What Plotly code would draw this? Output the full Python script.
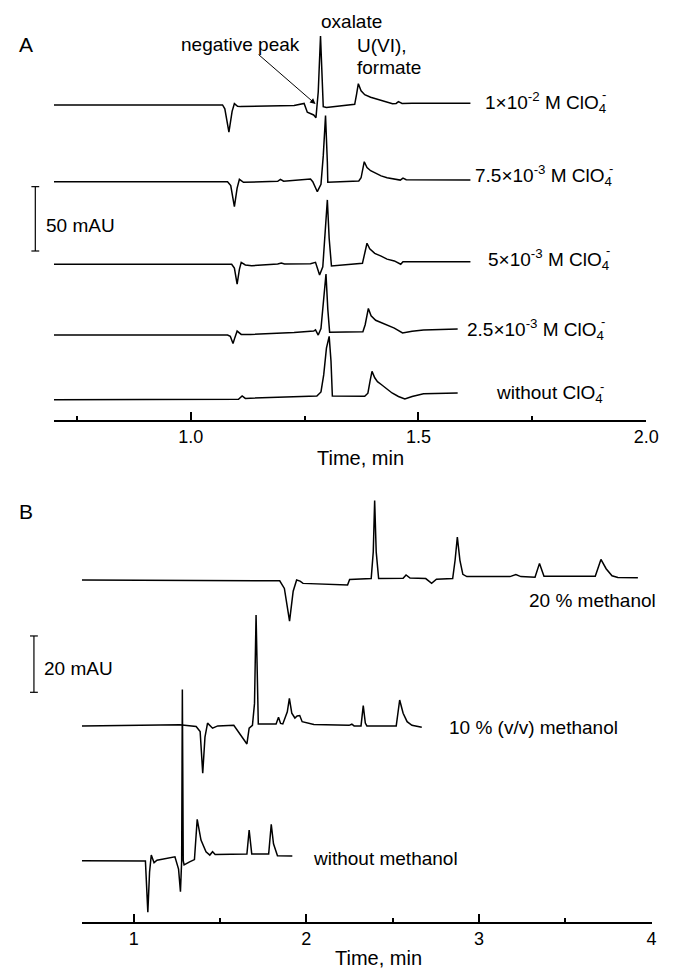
import plotly.graph_objects as go

# ---------------- Panel A: perchlorate in the background electrolyte ----------------
A_LABELS = ["1×10<sup>-2</sup> M ClO<sub>4</sub>", "7.5×10<sup>-3</sup> M ClO<sub>4</sub>",
            "5×10<sup>-3</sup> M ClO<sub>4</sub>", "2.5×10<sup>-3</sup> M ClO<sub>4</sub>",
            "without ClO<sub>4</sub>"]

A_T_1 = [0.700, 1.070, 1.075, 1.084, 1.091, 1.096, 1.103, 1.109, 1.227, 1.245, 1.249, 1.256,
         1.270, 1.275, 1.280, 1.285, 1.289, 1.291, 1.298, 1.357, 1.360, 1.364, 1.368, 1.374,
         1.382, 1.395, 1.410, 1.425, 1.443, 1.451, 1.456, 1.464, 1.486, 1.614]
A_V_1 = [0, 0, -3, -21.2, -5, 1.0, -1.0, -1.3, -0.5, 0.5, 1.2, -5.7,
         -7.8, -9.9, 10, 53.5, 10, -1.3, -2, 0, 0.5, 8, 16.5, 11,
         8, 6, 4.5, 3, 1, 1.2, 2.6, 1.2, 1.3, 1.3]

A_T_2 = [0.700, 1.081, 1.088, 1.096, 1.102, 1.107, 1.116, 1.163, 1.191, 1.197, 1.204, 1.263,
         1.268, 1.278, 1.286, 1.291, 1.296, 1.300, 1.301, 1.369, 1.374, 1.381, 1.387, 1.395,
         1.408, 1.418, 1.431, 1.447, 1.460, 1.466, 1.473, 1.614]
A_V_2 = [0, 0, -3, -19.4, -5, 1.8, -0.5, 0, 0.3, 1.8, 0.3, 2,
         0, -7.8, -2, 20, 51.3, 15, -0.5, 0.5, 3, 15.5, 11, 8.5,
         6, 4.5, 3, 2, 1.2, 2.8, 1.5, 1.3]

A_T_3 = [0.700, 1.090, 1.096, 1.102, 1.107, 1.111, 1.120, 1.134, 1.191, 1.199, 1.206, 1.263,
         1.274, 1.283, 1.290, 1.295, 1.300, 1.304, 1.309, 1.377, 1.380, 1.387, 1.393, 1.404,
         1.418, 1.431, 1.447, 1.461, 1.466, 1.614]
A_V_3 = [0, 0, -3, -15.5, -4, 1.5, -0.5, -1.1, 0.3, 1, 0.3, 0.5,
         1.5, -8.3, -2, 25, 50, 20, -1.3, 0.7, 5, 16.3, 12, 8.5,
         6.3, 4, 2.6, 0, 2, 2]

A_T_4 = [0.700, 1.081, 1.087, 1.093, 1.097, 1.102, 1.111, 1.131, 1.227, 1.270, 1.274, 1.280,
         1.286, 1.292, 1.297, 1.301, 1.305, 1.378, 1.383, 1.390, 1.396, 1.406, 1.418, 1.431,
         1.447, 1.465, 1.486, 1.511, 1.586]
A_V_4 = [0, 0, -1, -6.5, -2, 3.1, 0.5, 0.5, 2, 3.1, 4, 0,
         5, 30, 47.4, 20, 2.1, 2.6, 8, 20.7, 15, 11.5, 9.8, 7.5,
         5.4, 1.6, 3, 4, 4.7]

A_T_5 = [0.700, 1.098, 1.105, 1.113, 1.120, 1.131, 1.227, 1.277, 1.286, 1.292, 1.298, 1.304,
         1.308, 1.311, 1.382, 1.389, 1.394, 1.398, 1.404, 1.410, 1.419, 1.431, 1.442, 1.456,
         1.470, 1.486, 1.511, 1.586]
A_V_5 = [0, 0, 0.3, 2.9, 1.0, 1.1, 2, 2.9, 6, 19.2, 40, 49.2,
         30, 2.9, 2.6, 5, 15, 22, 17, 14, 11.6, 8, 5.2, 2.5,
         0.5, 2.5, 4.5, 5.2]

A_TICKS = [1.0, 1.5, 2.0]
A_TICK_TEXT = ["1.0", "1.5", "2.0"]
A_MINOR = [0.75, 1.25, 1.75]
A_SCALE_MAU = 50

# ---------------- Panel B: methanol in the background electrolyte ----------------
B_LABELS = ["20 % methanol", "10 % (v/v) methanol", "without methanol"]

B_T_1 = [0.700, 1.846, 1.873, 1.903, 1.924, 1.944, 1.964, 1.981, 2.239, 2.251,
         2.376, 2.388, 2.396, 2.405, 2.419, 2.561, 2.578, 2.601, 2.692, 2.726,
         2.754, 2.848, 2.862, 2.875, 2.890, 2.907, 2.930, 3.180, 3.214, 3.243,
         3.325, 3.351, 3.377, 3.674, 3.707, 3.737, 3.771, 3.805, 3.921]
B_V_1 = [0, -0.3, -3, -14.6, -4, 0, -0.4, -1.2, -1.8, 0.2,
         0.5, 10, 28.2, 10, 0.5, 0.6, 1.8, 0.7, 0.5, -1.2,
         0.3, 0.5, 7, 15.2, 7, 2, 1.2, 1.2, 1.9, 1.2,
         1.0, 5.9, 1.3, 1.3, 7.3, 4, 1.5, 0.9, 0.8]

B_T_2 = [0.700, 1.267, 1.362, 1.385, 1.400, 1.413, 1.428, 1.457, 1.487, 1.580,
         1.656, 1.669, 1.688, 1.700, 1.709, 1.716, 1.722, 1.825, 1.839, 1.851,
         1.864, 1.890, 1.902, 1.916, 1.934, 1.947, 1.962, 1.976, 2.044, 2.248,
         2.264, 2.277, 2.317, 2.330, 2.342, 2.351, 2.521, 2.541, 2.561, 2.584,
         2.612, 2.669]
B_V_2 = [0, 0.4, -0.2, -2, -16.8, -4, 1, -0.8, 0, 0.2,
         -6.4, -0.8, 0.2, 8, 39.4, 8, 0.7, 0.7, 3.1, 0.9,
         0.7, 5, 9.8, 4.5, 2.8, 3.5, 3.7, 1.5, 0.5, 0.2,
         0.6, 0, 0, 7.2, 1, 0, 0, 9.2, 4.5, 1.5,
         0.2, -0.5]

B_T_3 = [0.700, 1.068, 1.082, 1.092, 1.102, 1.118, 1.135, 1.239, 1.260, 1.271,
         1.278, 1.282, 1.287, 1.292, 1.324, 1.352, 1.368, 1.390, 1.419, 1.441,
         1.457, 1.472, 1.656, 1.669, 1.684, 1.782, 1.797, 1.810, 1.833, 1.919]
B_V_3 = [0, -0.1, -18.3, -4, 2.0, -0.7, 0.2, 1.4, -3, -11.0,
         0, 60.8, 0, -1.5, -0.4, 0.4, 14.7, 7.3, 3.2, 2.0,
         3.2, 2.2, 2.4, 10.9, 2.4, 2.4, 12.9, 6, 1.8, 1.7]

B_TICKS = [1, 2, 3, 4]
B_TICK_TEXT = ["1", "2", "3", "4"]
B_MINOR = [1.5, 2.5, 3.5]
B_SCALE_MAU = 20

# ---------------- page geometry (pixels) ----------------
W, H = 676, 969
FONT = "Liberation Sans, Arial, Helvetica, sans-serif"

A_LEFT, A_RIGHT, A_BOTTOM, A_TOP = 55, 659, 420, 10
A_PX_PER_MAU = 1.287
A_OFFSETS = [244.8, 185.2, 121.0, 66.0, 15.8]       # trace baselines, mAU

B_LEFT, B_RIGHT, B_BOTTOM, B_TOP = 83.5, 664.3, 921.7, 490
B_PX_PER_MAU = 2.817
B_OFFSETS = [121.3, 69.5, 21.65]


def px(x):
    return x / W


def py(y):
    return 1 - y / H


fig = go.Figure()

line_style = dict(color="black", width=1.5)
for t, v, off in zip([A_T_1, A_T_2, A_T_3, A_T_4, A_T_5],
                     [A_V_1, A_V_2, A_V_3, A_V_4, A_V_5], A_OFFSETS):
    fig.add_trace(go.Scatter(x=t, y=[a + off for a in v], mode="lines", line=line_style,
                             xaxis="x", yaxis="y", hoverinfo="skip"))

for t, v, off in zip([B_T_1, B_T_2, B_T_3], [B_V_1, B_V_2, B_V_3], B_OFFSETS):
    fig.add_trace(go.Scatter(x=t, y=[a + off for a in v], mode="lines", line=line_style,
                             xaxis="x2", yaxis="y2", hoverinfo="skip"))


def time_axis(domain, rng, anchor, ticks, text, minor):
    return dict(domain=domain, range=rng, anchor=anchor, showline=True, linecolor="black",
                linewidth=1.5, ticks="inside", ticklen=8, tickwidth=1.5, tickcolor="black",
                tickmode="array", tickvals=ticks, ticktext=text, showgrid=False, zeroline=False,
                tickfont=dict(family=FONT, size=18, color="black"),
                minor=dict(tickmode="array", tickvals=minor, ticks="inside", ticklen=4,
                           tickwidth=1.5, tickcolor="black", showgrid=False))


fig.update_layout(
    width=W, height=H, margin=dict(l=0, r=0, t=0, b=0),
    paper_bgcolor="white", plot_bgcolor="white", showlegend=False,
    font=dict(family=FONT, size=19, color="black"),
    xaxis=time_axis([px(A_LEFT), px(A_RIGHT)], [0.7, 2.0], "y", A_TICKS, A_TICK_TEXT, A_MINOR),
    yaxis=dict(domain=[py(A_BOTTOM), py(A_TOP)],
               range=[0, (A_BOTTOM - A_TOP) / A_PX_PER_MAU], visible=False),
    xaxis2=time_axis([px(B_LEFT), px(B_RIGHT)], [0.7, 4.0], "y2", B_TICKS, B_TICK_TEXT, B_MINOR),
    yaxis2=dict(domain=[py(B_BOTTOM), py(B_TOP)],
                range=[0, (B_BOTTOM - B_TOP) / B_PX_PER_MAU], visible=False),
)

ann = []


def text(s, x, y, size=19, xanchor="left"):
    ann.append(dict(text=s, x=px(x), y=py(y), xref="paper", yref="paper", showarrow=False,
                    xanchor=xanchor, yanchor="middle",
                    font=dict(family=FONT, size=size, color="black")))


# panel letters, axis titles
text("A", 17, 45, size=21)
text("B", 17, 511, size=21)
text("Time, min", 367.5, 458, size=20, xanchor="center")
text("Time, min", 386, 958, size=20, xanchor="center")

# peak names in panel A
text("oxalate", 358.8, 21, xanchor="center")
text("negative peak", 245.5, 45, xanchor="center")
text("U(VI),", 362, 45.5)
text("formate", 362, 67.5)
ann.append(dict(text="", x=px(321.7), y=py(104), xref="paper", yref="paper",
                ax=-58.4, ay=-50.7, showarrow=True, arrowhead=2, arrowsize=1.1,
                arrowwidth=1, arrowcolor="black", standoff=0))

# perchlorate labels; the charge sign sits above the subscript 4
a_label_right = [619.5, 626.5, 623, 618, 617]
a_label_y = [102, 176, 259, 329, 394]
for s, xr, yc in zip(A_LABELS, a_label_right, a_label_y):
    text(s, xr, yc, xanchor="right")
    text("-", xr - 3.5, yc - 8, size=13, xanchor="center")

# methanol labels
text(B_LABELS[0], 537, 600)
text(B_LABELS[1], 456, 727)
text(B_LABELS[2], 317, 858)

# scale bars
text(f"{A_SCALE_MAU} mAU", 45, 225)
text(f"{B_SCALE_MAU} mAU", 43, 668)

fig.update_layout(annotations=ann)

shapes = []
for xbar, yref, ybot, size in [(36, "y", (A_BOTTOM - 251) / A_PX_PER_MAU, A_SCALE_MAU),
                               (34.6, "y2", (B_BOTTOM - 692.3) / B_PX_PER_MAU, B_SCALE_MAU)]:
    line = dict(color="black", width=1.2)
    shapes.append(dict(type="line", xref="paper", yref=yref, x0=px(xbar), x1=px(xbar),
                       y0=ybot, y1=ybot + size, line=line))
    for yy in (ybot, ybot + size):
        shapes.append(dict(type="line", xref="paper", yref=yref, x0=px(xbar - 4),
                           x1=px(xbar + 4), y0=yy, y1=yy, line=line))
fig.update_layout(shapes=shapes)

fig.write_html("out.html")
